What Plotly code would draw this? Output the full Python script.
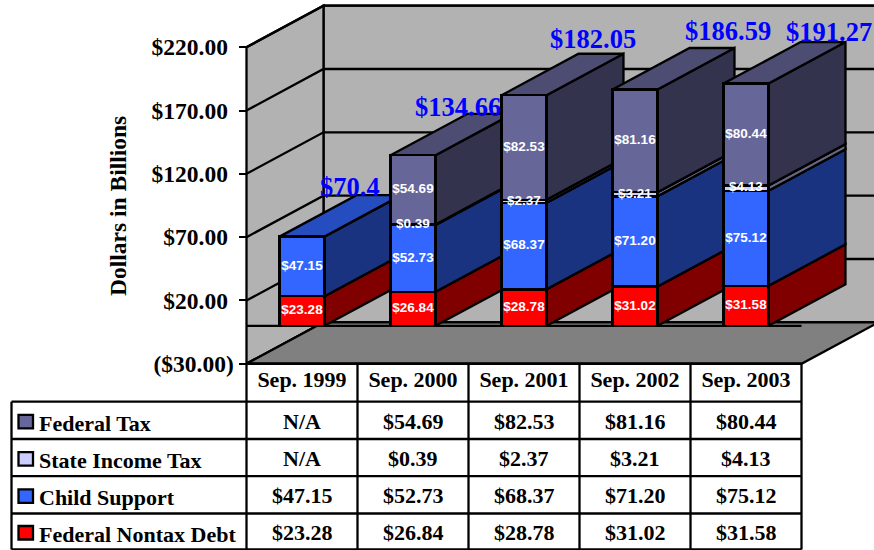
import plotly.graph_objects as go

# ---------- data ----------
categories = ["Sep. 1999", "Sep. 2000", "Sep. 2001", "Sep. 2002", "Sep. 2003"]
federal_nontax = [23.28, 26.84, 28.78, 31.02, 31.58]
child_support = [47.15, 52.73, 68.37, 71.20, 75.12]
state_income = [None, 0.39, 2.37, 3.21, 4.13]
federal_tax = [None, 54.69, 82.53, 81.16, 80.44]
total_labels = ["$70.4", "$134.66", "$182.05", "$186.59", "$191.27"]
totals = [70.43, 134.65, 182.05, 186.59, 191.27]
y_ticks = [-30, 20, 70, 120, 170, 220]
y_tick_text = ["($30.00)", "$20.00\u00a0", "$70.00\u00a0", "$120.00\u00a0", "$170.00\u00a0", "$220.00\u00a0"]

# ---------- style / layout constants ----------
W, H = 874, 550
SERIF, SANS = "Liberation Serif", "Liberation Sans"
PX_CAT, X0 = 111.0, 302.0          # px per category, px of category 0
PX_VAL, Y_FLOOR = 1.2664, 363.8    # px per dollar, px of -$30
DEPTH_X, DEPTH_Y = 77 / PX_CAT, 41.5 / PX_VAL
X_RANGE = [(0 - X0) / PX_CAT, (W - X0) / PX_CAT]
Y_RANGE = [-30 - (H - Y_FLOOR) / PX_VAL, -30 + Y_FLOOR / PX_VAL]
BAR_W = 0.405
LW = 2.3
series = [
    ("Federal Nontax Debt", federal_nontax, "#FF0000", "#800000", "#BF0000"),
    ("Child Support", child_support, "#3366FF", "#1A3380", "#264DBF"),
    ("State Income Tax", state_income, "#CCCCFF", "#666680", "#9999BF"),
    ("Federal Tax", federal_tax, "#666699", "#33334D", "#4D4D73"),
]
# hand placement of the total labels, px relative to the bar top centre
label_shift_x = [48, 45, 69, 93, 83]
label_shift_y = [50, 48, 56, 59, 52]

fig = go.Figure()


def poly(xs, ys, fill, name, line=LW):
    fig.add_trace(go.Scatter(x=xs, y=ys, mode="lines", fill="toself", fillcolor=fill,
                             line=dict(color="black", width=line), name=name,
                             hoverinfo="skip", showlegend=False))


left, right = -0.5, len(categories) - 0.5
ymin, ymax = y_ticks[0], y_ticks[-1]
# back wall, left wall
poly([left + DEPTH_X, right + DEPTH_X, right + DEPTH_X, left + DEPTH_X, left + DEPTH_X],
     [ymin + DEPTH_Y, ymin + DEPTH_Y, ymax + DEPTH_Y, ymax + DEPTH_Y, ymin + DEPTH_Y],
     "#B2B2B2", "back wall")
poly([left, left + DEPTH_X, left + DEPTH_X, left, left],
     [ymin, ymin + DEPTH_Y, ymax + DEPTH_Y, ymax, ymin], "#B2B2B2", "side wall")
# gridlines
for t in y_ticks:
    fig.add_trace(go.Scatter(x=[left, left + DEPTH_X, right + DEPTH_X], y=[t, t + DEPTH_Y, t + DEPTH_Y],
                             mode="lines", line=dict(color="black", width=LW),
                             hoverinfo="skip", showlegend=False))
# floor
poly([left, left + DEPTH_X, right + DEPTH_X, right, left],
     [ymin, ymin + DEPTH_Y, ymin + DEPTH_Y, ymin, ymin], "#808080", "floor")
# zero plane line
fig.add_trace(go.Scatter(x=[left, right], y=[0, 0], mode="lines", line=dict(color="black", width=LW),
                         hoverinfo="skip", showlegend=False))

# depth faces of the bars, left to right and bottom to top
hw = BAR_W / 2
for i in range(len(categories)):
    base = 0.0
    for name, vals, front, side, top in series:
        v = vals[i]
        if v is None:
            continue
        y0, y1 = base, base + v
        xr = i + hw
        poly([xr, xr + DEPTH_X, xr + DEPTH_X, xr, xr],
             [y0, y0 + DEPTH_Y, y1 + DEPTH_Y, y1, y0], side, name + " side")
        poly([i - hw, i - hw + DEPTH_X, xr + DEPTH_X, xr, i - hw],
             [y1, y1 + DEPTH_Y, y1 + DEPTH_Y, y1, y1], top, name + " top")
        base = y1

# front faces: real stacked bars on an overlaid subplot
xs = list(range(len(categories)))
for name, vals, front, side, top in series:
    fig.add_trace(go.Bar(
        x=xs, y=vals, width=BAR_W, name=name,
        marker=dict(color=front, line=dict(color="black", width=LW)),
        xaxis="x2", yaxis="y2", showlegend=False))

# value labels, drawn above every bar so thin segments do not hide them
running = [0.0] * len(categories)
for name, vals, front, side, top in series:
    lab_x, lab_y, lab_t = [], [], []
    for i, v in enumerate(vals):
        if v is None:
            continue
        lab_x.append(i)
        lab_y.append(running[i] + v / 2)
        lab_t.append(f"${v:.2f}")
        running[i] += v
    fig.add_trace(go.Scatter(x=lab_x, y=lab_y, text=lab_t, mode="text", textposition="middle center",
                             textfont=dict(family=SANS, size=13.5, color="white", weight="bold"),
                             cliponaxis=False, hoverinfo="skip", showlegend=False,
                             name=name + " labels", xaxis="x2", yaxis="y2"))


def px(x):
    return x / W


def py(y):
    return 1 - y / H


# ---------- data table ----------
TX = [11.5, 246.5, 357.5, 468.5, 579.5, 690.5, 801.5]
TY = [363.5, 401.7, 439, 476.2, 513.5, 549.5]
shapes = []


def seg(x0, y0, x1, y1):
    shapes.append(dict(type="line", xref="paper", yref="paper", x0=px(x0), y0=py(y0), x1=px(x1), y1=py(y1),
                       line=dict(color="black", width=LW), layer="above"))


seg(TX[1], TY[0], TX[-1], TY[0])
for yy in TY[1:]:
    seg(TX[0], yy, TX[-1], yy)
seg(TX[0], TY[1], TX[0], TY[-1])
for xx in TX[1:]:
    seg(xx, TY[0], xx, TY[-1])

annotations = []
for r, (name, vals, front, side, top) in enumerate(reversed(series)):
    yc = (TY[r + 1] + TY[r + 2]) / 2
    shapes.append(dict(type="rect", xref="paper", yref="paper", x0=px(18.5), x1=px(33),
                       y0=py(yc - 5.5), y1=py(yc + 8), fillcolor=front,
                       line=dict(color="black", width=LW), layer="above"))
    annotations.append(dict(xref="paper", yref="paper", x=px(37), y=py(yc + 3), text=name, showarrow=False,
                            xanchor="left", yanchor="middle",
                            font=dict(family=SERIF, size=22, color="black", weight="bold")))
    for c, v in enumerate(vals):
        annotations.append(dict(xref="paper", yref="paper", x=px((TX[c + 1] + TX[c + 2]) / 2), y=py(yc + 1),
                                text=f"${v:.2f}" if v is not None else "N/A", showarrow=False,
                                xanchor="center", yanchor="middle",
                                font=dict(family=SERIF, size=22, color="black", weight="bold")))

# totals above the bars
for i, lab in enumerate(total_labels):
    annotations.append(dict(xref="x2", yref="y2", x=i, y=totals[i], text=lab, showarrow=False,
                            xshift=label_shift_x[i], yshift=label_shift_y[i],
                            xanchor="center", yanchor="middle",
                            font=dict(family=SERIF, size=26.5, color="#0000FF", weight="bold")))

# axis title
annotations.append(dict(xref="paper", yref="paper", x=px(118), y=py(206), text="Dollars in Billions",
                        textangle=-90, showarrow=False, xanchor="center", yanchor="middle",
                        font=dict(family=SERIF, size=23.5, color="black", weight="bold")))

tick_font = dict(family=SERIF, size=23.5, color="black", weight="bold")
fig.update_layout(
    width=W, height=H, margin=dict(l=0, r=0, t=0, b=0),
    paper_bgcolor="white", plot_bgcolor="rgba(0,0,0,0)", showlegend=False, barmode="stack",
    xaxis=dict(range=X_RANGE, visible=False, domain=[0, 1], fixedrange=True),
    yaxis=dict(range=Y_RANGE, visible=False, domain=[0, 1], fixedrange=True),
    xaxis2=dict(range=X_RANGE, overlaying="x", anchor="free", position=py(TY[0]), side="bottom",
                tickmode="array", tickvals=xs, ticktext=categories,
                ticks="", showgrid=False, zeroline=False,
                showline=False, tickfont=dict(family=SERIF, size=22, color="black", weight="bold"),
                fixedrange=True),
    yaxis2=dict(range=Y_RANGE, overlaying="y", anchor="free", position=px(TX[1]), side="left",
                tickmode="array", tickvals=y_ticks, ticktext=y_tick_text,
                ticks="outside", ticklen=8, tickwidth=LW, tickcolor="black",
                showgrid=False, zeroline=False, showline=False, tickfont=tick_font,
                fixedrange=True),
    shapes=shapes, annotations=annotations,
)
fig.write_html("out.html", config={"displayModeBar": False},
               post_script="document.body.style.margin='0';")
